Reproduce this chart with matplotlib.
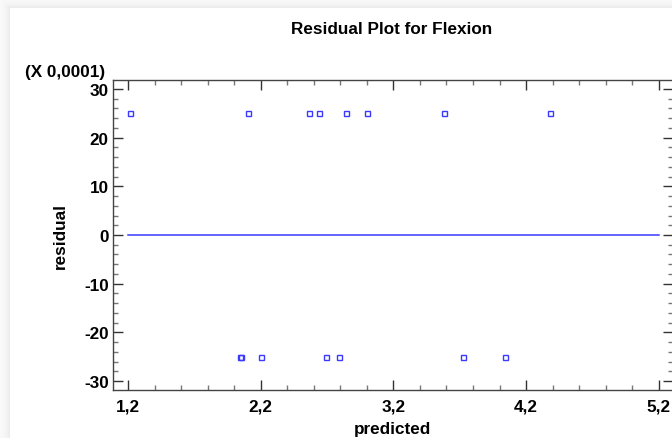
import numpy as np
import matplotlib
matplotlib.use("Agg")
import matplotlib.pyplot as plt
from matplotlib.ticker import FuncFormatter

# Data
predicted_top = [1.213, 2.106, 2.566, 2.642, 2.845, 3.004, 3.585, 4.377]
residual_top = [0.0025] * len(predicted_top)
predicted_bot = [2.043, 2.053, 2.2, 2.69, 2.79, 3.721, 4.038]
residual_bot = [-0.0025] * len(predicted_bot)
predicted = predicted_top + predicted_bot
residual = residual_top + residual_bot
scale = 1e-4
zero_line_x = [1.2, 5.2]
zero_line_y = [0.0, 0.0]
x_major = [1.2, 2.2, 3.2, 4.2, 5.2]
y_major = [-30, -20, -10, 0, 10, 20, 30]

title = "Residual Plot for Flexion"
xlabel = "predicted"
ylabel = "residual"
scale_label = "(X 0,0001)"

plt.rcParams['font.family'] = ['Liberation Sans', 'DejaVu Sans']

W, H = 672, 439
fig = plt.figure(figsize=(W / 100, H / 100), dpi=100)

# card background with soft shadow at top/left
yy, xx = np.mgrid[0:H, 0:W]
dx = np.clip(10 - xx, 0, None)
dy = np.clip(9 - yy, 0, None)
d = np.maximum(dx, dy)
shade = np.where(d > 0, 0.985 - 0.06 * np.exp(-((d - 1) / 4.0)), 1.0)
shade = np.clip(shade, 0.9, 1.0)
img = np.dstack([shade, shade, shade])
fig.figimage(img, 0, 0, origin='upper', zorder=-5)

ax = fig.add_axes([113 / W, (H - 391) / H, (W - 113) / W + 0.002, (391 - 81) / H])
ax.set_zorder(5)
ax.set_facecolor('white')

blue = '#3a3aff'
ax.plot(zero_line_x, zero_line_y, color=blue, lw=1.1, zorder=2)
ax.plot(predicted, np.array(residual) / scale, linestyle='none', marker='s',
        markersize=3.6, markerfacecolor='none', markeredgecolor=blue,
        markeredgewidth=1.0, zorder=3)

ax.set_xlim(1.087, 5.31)
ax.set_ylim(-31.8, 31.8)

ax.set_xticks(x_major)
ax.set_xticks(np.arange(1.2, 5.21, 0.2), minor=True)
ax.set_yticks(y_major)
ax.set_yticks(np.arange(-30, 31, 2), minor=True)

ax.xaxis.set_major_formatter(FuncFormatter(lambda v, p: f"{v:.1f}".replace('.', ',')))
ax.yaxis.set_major_formatter(FuncFormatter(lambda v, p: f"{v:.0f}"))

tc = '#333333'
ax.tick_params(which='both', direction='in', top=True, right=True, color=tc)
ax.tick_params(which='major', length=7.5, width=1.0, labelsize=12.3, pad=6)
ax.tick_params(which='minor', length=3.8, width=1.0, color='#777777')
for lab in ax.get_xticklabels() + ax.get_yticklabels():
    lab.set_fontweight('bold')
ax.tick_params(axis='y', pad=3)
for s in ax.spines.values():
    s.set_color('#444444')
    s.set_linewidth(1.0)

fs = 12.3
fig.text(392 / W, 1 - 30 / H, title, ha='center', va='center', fontsize=fs, fontweight='bold')
fig.text(392 / W, 1 - 430 / H, xlabel, ha='center', va='center', fontsize=fs, fontweight='bold')
fig.text(60 / W, 1 - 236 / H, ylabel, ha='center', va='center', fontsize=fs, fontweight='bold', rotation=90)
fig.text(105 / W, 1 - 73 / H, scale_label, ha='right', va='center', fontsize=fs, fontweight='bold')

fig.savefig('out.png', dpi=100)
